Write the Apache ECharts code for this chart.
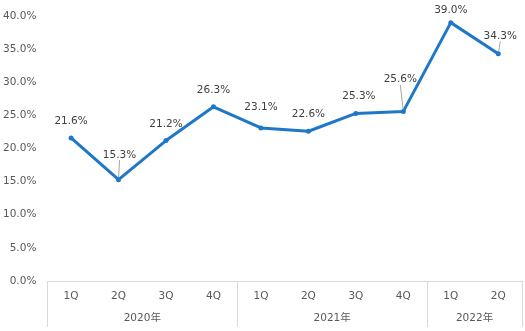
<!DOCTYPE html>
<html>
<head>
<meta charset="utf-8">
<script src="https://cdn.jsdelivr.net/npm/echarts@6/dist/echarts.min.js"></script>
<style>
html,body{margin:0;padding:0;background:#fff;}
#chart{width:525px;height:331px;}
</style>
</head>
<body>
<div id="chart"></div>
<script>
var quarters = ['1Q','2Q','3Q','4Q','1Q','2Q','3Q','4Q','1Q','2Q'];
var values = [21.6, 15.3, 21.2, 26.3, 23.1, 22.6, 25.3, 25.6, 39.0, 34.3];
var yearLabels = ['', '', '2020年', '', '', '', '2021年', '', '', '2022年', ''];
var yearBoundaries = [0, 4, 8, 10];
var yTicks = {min: 0, max: 40, interval: 5};

var FONT = "'DejaVu Sans', 'Noto Sans CJK JP', sans-serif";
var labelShift = {1: [1, -8, true], 4: [0, -4], 7: [-3, -15, true], 8: [0, 4], 9: [2, -1, true], 6: [3, 0]};

var chart = echarts.init(document.getElementById('chart'), null, {renderer: 'canvas'});
chart.setOption({
  animation: false,
  backgroundColor: '#ffffff',
  grid: {left: 46, right: 3, top: 16, bottom: 50, containLabel: false},
  xAxis: [{
    type: 'category',
    data: quarters,
    boundaryGap: true,
    position: 'bottom',
    axisLine: {show: true, lineStyle: {color: '#d9d9d9', width: 1}},
    axisTick: {show: false},
    axisLabel: {color: '#595959', fontSize: 10.5, fontFamily: FONT, margin: 10, interval: 0}
  }, {
    type: 'category',
    data: yearLabels,
    boundaryGap: false,
    position: 'bottom',
    gridIndex: 0,
    axisLine: {show: false},
    axisTick: {
      show: true,
      length: 46,
      interval: function (idx) { return yearBoundaries.indexOf(idx) >= 0; },
      lineStyle: {color: '#d9d9d9', width: 1}
    },
    axisLabel: {color: '#595959', fontSize: 10.5, fontFamily: FONT, margin: 32, interval: 0},
    splitLine: {show: false}
  }],
  yAxis: {
    type: 'value',
    min: yTicks.min, max: yTicks.max, interval: yTicks.interval,
    axisLine: {show: false},
    axisTick: {show: false},
    splitLine: {show: false},
    axisLabel: {
      color: '#595959', fontSize: 10.5, fontFamily: FONT, margin: 11,
      formatter: function (v) { return v.toFixed(1) + '%'; }
    }
  },
  series: [{
    type: 'line',
    xAxisIndex: 0,
    data: values.map(function (v, i) {
      var item = {value: v};
      if (labelShift[i] && labelShift[i][2]) {
        item.labelLine = {show: true, lineStyle: {color: '#a6a6a6', width: 1}};
      }
      return item;
    }),
    symbol: 'circle',
    symbolSize: 5,
    lineStyle: {color: '#1f77c8', width: 3},
    itemStyle: {color: '#1f77c8'},
    label: {
      show: true,
      position: 'top',
      distance: 9,
      color: '#404040',
      fontSize: 10.5,
      fontFamily: FONT,
      formatter: function (p) { return p.value.toFixed(1) + '%'; }
    },
    labelLine: {show: false, lineStyle: {color: '#a6a6a6', width: 1}},
    labelLayout: function (p) {
      var s = labelShift[p.dataIndex];
      if (!s) return {};
      return {dx: s[0], dy: s[1]};
    }
  }]
});
</script>
</body>
</html>
